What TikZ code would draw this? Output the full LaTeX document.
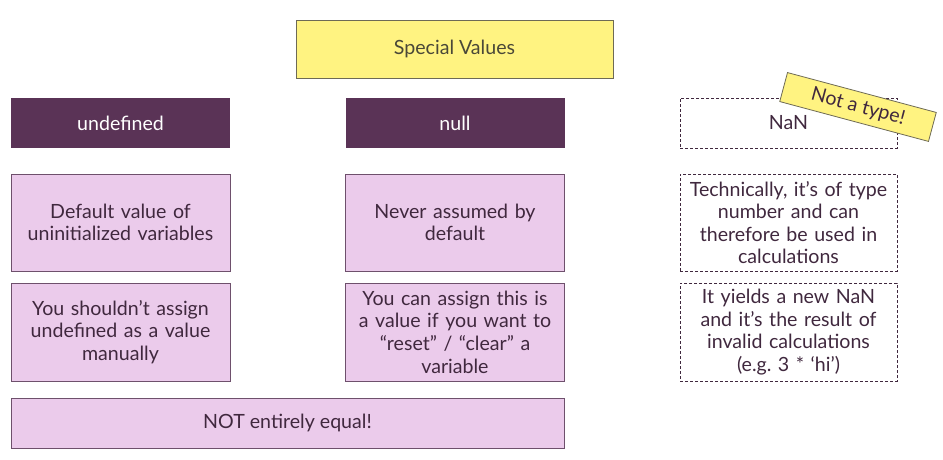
\documentclass[tikz,border=0pt]{standalone}
\usepackage{fontspec}
\setmainfont{Lato}
\frenchspacing
\definecolor{yel}{HTML}{FFF381}
\definecolor{yelborder}{HTML}{6E6A55}
\definecolor{dark}{HTML}{5A3356}
\definecolor{light}{HTML}{EBCBEB}
\definecolor{lightborder}{HTML}{6E506C}
\definecolor{txt}{HTML}{40283E}
\definecolor{graytxt}{HTML}{4A4838}
\begin{document}
\begin{tikzpicture}[x=1pt,y=-1pt,
  every node/.style={font=\fontsize{19.6}{22.6}\selectfont, align=center, inner sep=2pt},
  titlebox/.style={draw=yelborder, fill=yel, text=graytxt, line width=0.8pt, minimum width=317pt, minimum height=58pt},
  headbox/.style={fill=dark, text=white, minimum width=219pt, minimum height=50pt},
  dashbox/.style={draw=txt, dashed, dash pattern=on 3pt off 2pt, line width=0.6pt, text=txt, minimum width=217pt, minimum height=50pt},
  lightbox/.style={draw=lightborder, fill=light, text=txt, line width=0.8pt, minimum width=219pt, minimum height=97pt, text width=212pt},
  dashdesc/.style={draw=txt, dashed, dash pattern=on 3pt off 2pt, line width=0.6pt, text=txt, minimum width=217pt, minimum height=97pt, text width=212pt},
  tag/.style={draw=yelborder, fill=yel, text=txt, line width=0.8pt, minimum width=154pt, minimum height=30pt, rotate=-15}
]
\useasboundingbox (0,0) rectangle (943,460);
\node[titlebox] (title) at (454.5,49) {Special Values};
\node[headbox] (undef) at (120.5,123) {undefined};
\node[headbox] (null) at (455,123) {null};
\node[dashbox] (nan) at (788.5,123) {NaN};
\node[tag] (tagnote) at (858,107) {Not a type!};
\node[lightbox] (undefA) at (120.5,222.5) {Default value of\\uninitialized variables};
\node[lightbox] (nullA) at (455,222.5) {Never assumed by\\default};
\node[dashdesc] (nanA) at (788.5,222.5) {Technically, it’s of type\\number and can\\therefore be used in\\calculations};
\node[lightbox, minimum height=98pt] (undefB) at (120.5,332) {You shouldn’t assign\\undefined as a value\\manually};
\node[lightbox, minimum height=98pt] (nullB) at (455,332) {You can assign this is\\a value if you want to\\“reset” / “clear” a\\variable};
\node[dashdesc, minimum height=98pt] (nanB) at (788.5,332) {It yields a new NaN\\and it’s the result of\\invalid calculations\\(e.g. 3 * ‘hi’)};
\node[draw=lightborder, fill=light, text=txt, line width=0.8pt, minimum width=553pt, minimum height=50pt] (equal) at (287.5,423) {NOT entirely equal!};
\end{tikzpicture}
\end{document}
